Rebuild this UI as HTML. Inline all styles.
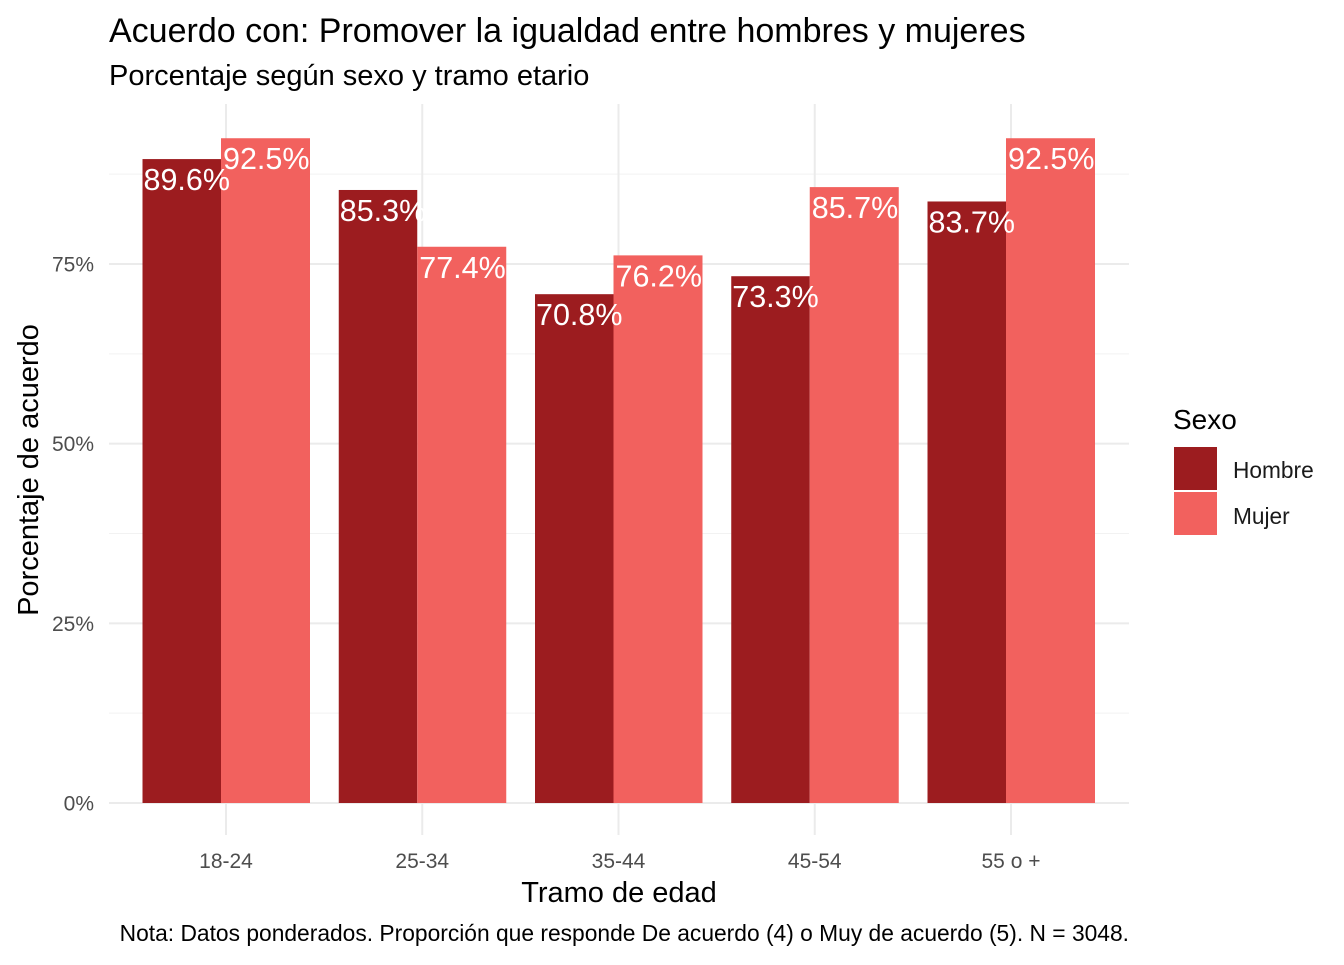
<!DOCTYPE html>
<html><head><meta charset="utf-8"><style>
body{margin:0;background:#fff;}
svg text{font-family:"Liberation Sans",Arial,sans-serif;}
</style></head><body>
<svg id="chart" width="1344" height="960" viewBox="0 0 1344 960" xmlns="http://www.w3.org/2000/svg">
<text x="109" y="42" font-size="34" fill="#000">Acuerdo con: Promover la igualdad entre hombres y mujeres</text>
<text x="109" y="85" font-size="29" fill="#000">Porcentaje según sexo y tramo etario</text>
<g id="grid"></g>
<g id="bars"></g>
<g id="labels"></g>
<g id="yticks"></g>
<g id="xticks"></g>
<text x="619" y="902" font-size="29" text-anchor="middle" fill="#000">Tramo de edad</text>
<text transform="translate(38,470) rotate(-90)" font-size="29" text-anchor="middle" fill="#000">Porcentaje de acuerdo</text>
<g>
<text x="1173" y="429" font-size="28" fill="#000">Sexo</text>
<rect x="1174" y="447" width="43" height="43" fill="#9c1c1f"/>
<text x="1233" y="478" font-size="22.7" fill="#1a1a1a">Hombre</text>
<rect x="1174" y="492" width="43" height="43" fill="#f2615e"/>
<text x="1233" y="524" font-size="22.7" fill="#1a1a1a">Mujer</text>
</g>
<text x="1129" y="941" font-size="22.8" text-anchor="end" fill="#000">Nota: Datos ponderados. Proporción que responde De acuerdo (4) o Muy de acuerdo (5). N = 3048.</text>
</svg>
<script>
const categories = ["18-24","25-34","35-44","45-54","55 o +"];
const hombre = [89.6,85.3,70.8,73.3,83.7];
const mujer = [92.5,77.4,76.2,85.7,92.5];
const yTicks = [0,25,50,75];
const yTickLabels = ["0%","25%","50%","75%"];
const NS="http://www.w3.org/2000/svg";
const y = v => 803 - v*(803-264)/75;
const x = i => 226 + i*196.25;
function mk(tag, attrs, parent){const e=document.createElementNS(NS,tag);for(const k in attrs)e.setAttribute(k,attrs[k]);parent.appendChild(e);return e;}
const grid=document.getElementById('grid'), bars=document.getElementById('bars'), labels=document.getElementById('labels'), yt=document.getElementById('yticks'), xt=document.getElementById('xticks');
for(let v=12.5; v<100; v+=25){const l=mk('line',{x1:109,x2:1129,y1:y(v),y2:y(v),stroke:'#f2f2f2','stroke-width':1},grid);

}
yTicks.forEach((v,i)=>{const l=mk('line',{x1:109,x2:1129,y1:y(v),y2:y(v),stroke:'#ebebeb','stroke-width':2},grid);


const t=mk('text',{x:94,y:y(v)+7.5,'font-size':21,'text-anchor':'end',fill:'#4d4d4d'},yt);t.textContent=yTickLabels[i];

});
categories.forEach((c,i)=>{const cx=x(i);
const g=mk('line',{x1:cx,x2:cx,y1:104,y2:835,stroke:'#ebebeb','stroke-width':2},grid);


const t=mk('text',{x:cx,y:868,'font-size':21,'text-anchor':'middle',fill:'#4d4d4d'},xt);t.textContent=c;


const hl=cx-83.5, ml=cx-5;
const b1=mk('rect',{x:hl,y:y(hombre[i]),width:78.5,height:803-y(hombre[i]),fill:'#9c1c1f'},bars);


const b2=mk('rect',{x:ml,y:y(mujer[i]),width:89,height:803-y(mujer[i]),fill:'#f2615e'},bars);


const l1=mk('text',{x:hl+1,y:y(hombre[i])+31,'font-size':30.5,fill:'#fff'},labels);l1.textContent=hombre[i].toFixed(1)+'%';


const l2=mk('text',{x:ml+2,y:y(mujer[i])+31,'font-size':30.5,fill:'#fff'},labels);l2.textContent=mujer[i].toFixed(1)+'%';


});
</script>
</body></html>
